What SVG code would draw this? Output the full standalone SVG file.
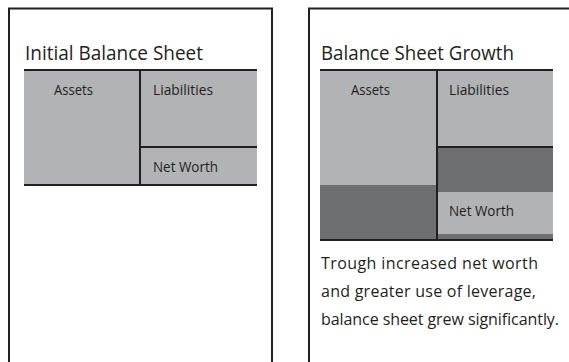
<svg xmlns="http://www.w3.org/2000/svg" width="569" height="362" viewBox="0 0 569 362">
  <style>
    .frame { fill: none; stroke: #231f20; stroke-width: 2; }
    .rule { stroke: #231f20; stroke-width: 2; fill: none; }
    .light { fill: #b2b3b5; }
    .dark { fill: #6e6f71; }
    .title { font-family: "Open Sans", "Liberation Sans", sans-serif; font-size: 19.5px; fill: #231f20; }
    .label { font-family: "Open Sans", "Liberation Sans", sans-serif; font-size: 14px; fill: #231f20; }
    .note { font-family: "Open Sans", "Liberation Sans", sans-serif; font-size: 16px; fill: #231f20; }
  </style>

  <rect width="569" height="362" fill="#ffffff"/>

  <!-- Left panel: starting balance sheet -->
  <g id="initial-panel">
    <path class="frame" d="M9,370 V8.5 H272 V370"/>
    <text class="title" x="25" y="60" textLength="178" lengthAdjust="spacingAndGlyphs">Initial Balance Sheet</text>
  </g>
  <g id="initial-assets">
    <rect class="light" x="24" y="70" width="116" height="115"/>
    <text class="label" x="54" y="95" textLength="39" lengthAdjust="spacingAndGlyphs">Assets</text>
  </g>
  <g id="initial-liabilities">
    <rect class="light" x="140" y="70" width="117" height="77"/>
    <text class="label" x="153" y="95" textLength="60" lengthAdjust="spacingAndGlyphs">Liabilities</text>
  </g>
  <g id="initial-networth">
    <rect class="light" x="140" y="147" width="117" height="38"/>
    <text class="label" x="153" y="172" textLength="65" lengthAdjust="spacingAndGlyphs">Net Worth</text>
  </g>

  <!-- Right panel: grown balance sheet -->
  <g id="growth-panel">
    <path class="frame" d="M309,370 V8.5 H570"/>
    <text class="title" x="321" y="60" textLength="193" lengthAdjust="spacingAndGlyphs">Balance Sheet Growth</text>
  </g>
  <g id="growth-assets">
    <rect class="light" x="320" y="70" width="117" height="115"/>
    <rect class="dark" x="320" y="185" width="117" height="55"/>
    <text class="label" x="351" y="95" textLength="39" lengthAdjust="spacingAndGlyphs">Assets</text>
  </g>
  <g id="growth-liabilities">
    <rect class="light" x="437" y="70" width="116" height="77"/>
    <rect class="dark" x="437" y="147" width="116" height="45"/>
    <text class="label" x="449" y="95" textLength="60" lengthAdjust="spacingAndGlyphs">Liabilities</text>
  </g>
  <g id="growth-networth">
    <rect class="light" x="437" y="192" width="116" height="42"/>
    <rect class="dark" x="437" y="234" width="116" height="6"/>
    <text class="label" x="449" y="216" textLength="65" lengthAdjust="spacingAndGlyphs">Net Worth</text>
  </g>
  <g id="growth-note">
    <text class="note" x="321" y="269" textLength="217" lengthAdjust="spacing">Trough increased net worth</text>
    <text class="note" x="321" y="297" textLength="215" lengthAdjust="spacing">and greater use of leverage,</text>
    <text class="note" x="321" y="325" textLength="238" lengthAdjust="spacing">balance sheet grew significantly.</text>
  </g>

  <!-- Table rules -->
  <g id="connectors">
    <path class="rule" d="M24,70 H257 M140,70 V185 M140,147 H257 M24,185 H257"/>
    <path class="rule" d="M320,70 H553 M437,70 V240 M437,147 H553 M320,240 H553"/>
  </g>
</svg>
